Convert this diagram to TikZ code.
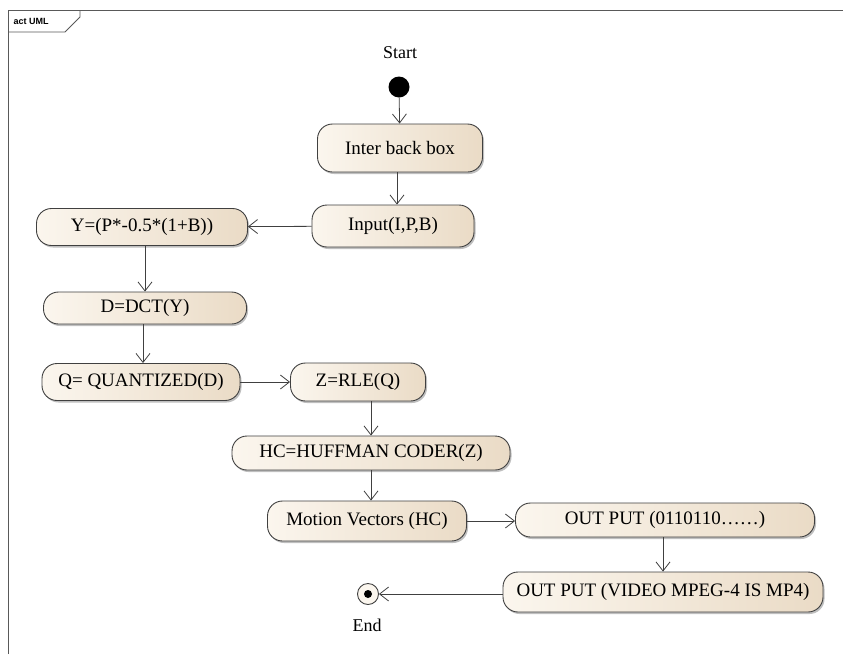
\documentclass[tikz,border=0pt]{standalone}
\usepackage{fontspec}
\setmainfont{Liberation Serif}
\newfontfamily\umlsans{Liberation Sans}
\usetikzlibrary{arrows.meta,shadows}

\definecolor{actleft}{HTML}{FBF6EE}
\definecolor{actright}{HTML}{EADBC6}
\definecolor{edgegray}{HTML}{404040}

\tikzset{
    act/.style={draw=edgegray,line width=0.9pt,rounded corners=15pt,
        left color=actleft,right color=actright,
        drop shadow={shadow xshift=1.5pt,shadow yshift=-2pt,opacity=0.5},
        font=\fontsize{19}{21}\selectfont,inner sep=0pt},
    flow/.style={draw=edgegray,line width=0.8pt,-{Straight Barb[length=9pt,width=14pt]}}
}

\begin{document}
\begin{tikzpicture}[x=1pt,y=-1pt]
    \useasboundingbox[fill=white] (0,0) rectangle (843,654);
    % frame
    \draw[line width=0.8pt,gray!70!black] (8,654) |- (843,10);
    \draw[line width=0.8pt,gray!70!black] (8,32) -- (65,32) -- (80,17) -- (80,10);
    \node[anchor=west,font=\umlsans\bfseries\fontsize{9}{10}\selectfont] (frame) at (10,21) {act UML};

    % start
    \node[font=\fontsize{18}{20}\selectfont] (startlbl) at (400,53) {Start};
    \node[circle,fill=black,minimum size=21pt,inner sep=0pt] (start) at (399,87) {};

    \node[act,minimum width=165pt,minimum height=48pt] (inter) at (400,148) {Inter back box};
    \node[act,minimum width=162pt,minimum height=42pt] (input) at (393,226) {Input(I,P,B)};
    \node[act,minimum width=211pt,minimum height=37pt] (ycalc) at (142,227) {Y=(P*-0.5*(1+B))};
    \node[act,minimum width=203pt,minimum height=32pt] (dct) at (145,308) {D=DCT(Y)};
    \node[act,minimum width=198pt,minimum height=37pt] (quant) at (141,382) {Q= QUANTIZED(D)};
    \node[act,minimum width=135pt,minimum height=38pt] (rle) at (358,382) {Z=RLE(Q)};
    \node[act,minimum width=278pt,minimum height=34pt] (huff) at (371,453) {HC=HUFFMAN CODER(Z)};
    \node[act,minimum width=199pt,minimum height=40pt] (motion) at (367,521) {Motion Vectors (HC)};
    \node[act,minimum width=299pt,minimum height=34pt] (out) at (665,520) {OUT PUT (0110110\dots\dots)};
    \node[act,minimum width=320pt,minimum height=40pt] (video) at (663,592) {OUT PUT (VIDEO MPEG-4 IS MP4)};

    % end
    \node[circle,draw=edgegray,line width=0.9pt,fill=actleft,minimum size=21pt,inner sep=0pt] (stop) at (368,594) {};
    \fill (stop) circle (4pt);
    \node[font=\fontsize{18}{20}\selectfont] (stoplbl) at (367,625) {End};

    % flows
    \draw[flow] (start) -- (inter);
    \draw[flow] (inter.south -| 397,0) -- (input.north -| 397,0);
    \draw[flow] (input) -- (ycalc);
    \draw[flow] (dct.north |- ycalc.south) -- (dct.north);
    \draw[flow] (dct.south -| 143,0) -- (quant.north -| 143,0);
    \draw[flow] (quant) -- (rle);
    \draw[flow] (huff.north |- rle.south) -- (huff.north);
    \draw[flow] (huff.south) -- (huff.south |- motion.north);
    \draw[flow] (motion) -- (out.west |- motion);
    \draw[flow] (out.south -| video.north) -- (video.north);
    \draw[flow] (video.west |- stop) -- (stop);
\end{tikzpicture}
\end{document}
